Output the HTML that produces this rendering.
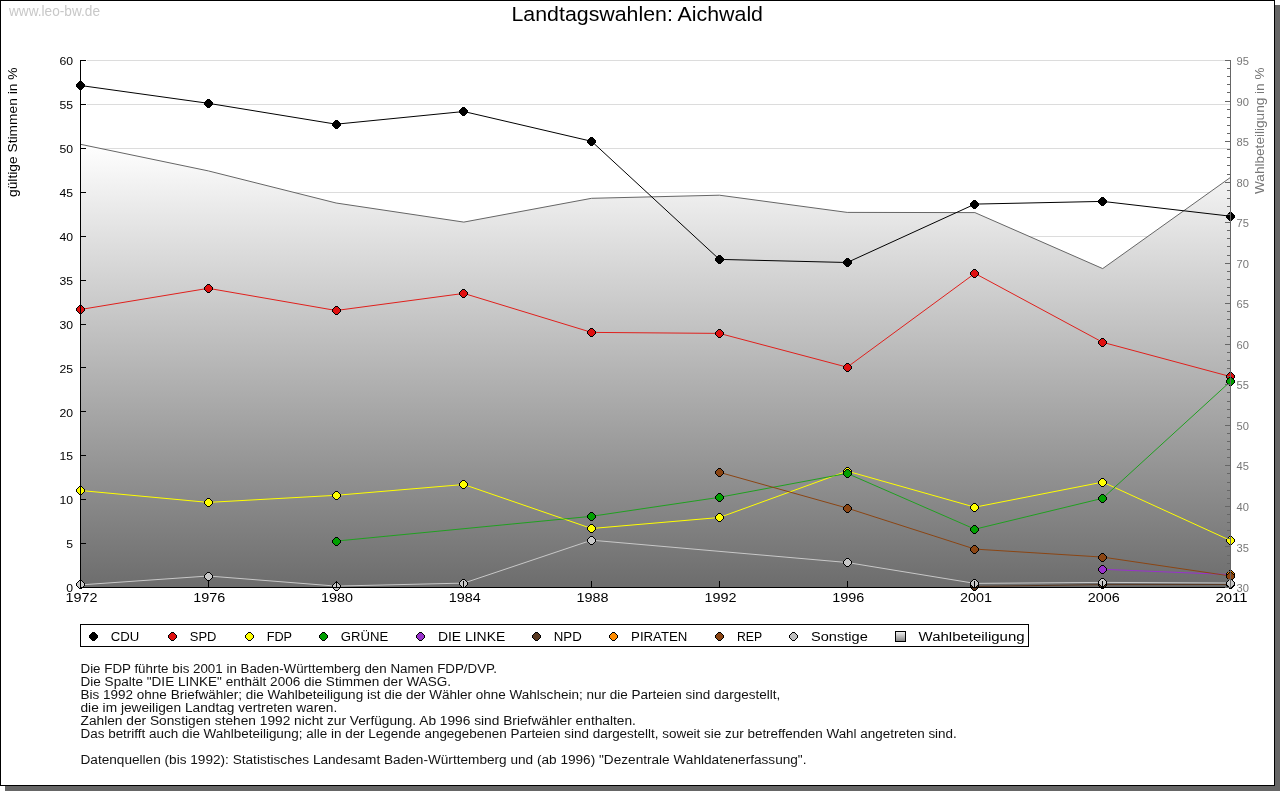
<!DOCTYPE html>
<html><head><meta charset="utf-8"><title>Landtagswahlen: Aichwald</title>
<style>
html,body{margin:0;padding:0;background:#fff;width:1280px;height:791px;overflow:hidden;}
svg{display:block;will-change:transform;}
text{font-family:"Liberation Sans",sans-serif;}
</style></head><body>
<svg width="1280" height="791" viewBox="0 0 1280 791">
<defs>
<linearGradient id="ag" gradientUnits="userSpaceOnUse" x1="0" y1="144" x2="0" y2="588">
<stop offset="0" stop-color="#ffffff"/><stop offset="1" stop-color="#6c6c6c"/>
</linearGradient>
<linearGradient id="lg" x1="0" y1="0" x2="0" y2="1">
<stop offset="0" stop-color="#f4f4f4"/><stop offset="1" stop-color="#808080"/>
</linearGradient>
</defs>
<rect x="5" y="5" width="1275" height="786" fill="#666"/>
<rect x="0.5" y="0.5" width="1274" height="785" fill="#fff" stroke="#000" stroke-width="1"/>

<text x="9" y="16" font-size="14" fill="#c8c8c8" textLength="91" lengthAdjust="spacingAndGlyphs">www.leo-bw.de</text>
<text x="511.5" y="21" font-size="20.5" fill="#000" textLength="251.5" lengthAdjust="spacingAndGlyphs">Landtagswahlen: Aichwald</text>
<text transform="translate(16.5,197) rotate(-90)" x="0" y="0" font-size="12" fill="#000" textLength="129.5" lengthAdjust="spacingAndGlyphs">gültige Stimmen in %</text>
<text transform="translate(1263.5,194) rotate(-90)" x="0" y="0" font-size="12" fill="#777" textLength="126.5" lengthAdjust="spacingAndGlyphs">Wahlbeteiligung in %</text>
<path d="M87 543.5H1230 M87 499.5H1230 M87 455.5H1230 M87 411.5H1230 M87 367.5H1230 M87 324.5H1230 M87 280.5H1230 M87 236.5H1230 M87 192.5H1230 M87 148.5H1230 M87 104.5H1230 M87 60.5H1230" stroke="#dcdcdc" stroke-width="1" fill="none"/>
<polygon points="80.5,144.3 208.3,170.9 336.1,203.0 463.8,222.1 591.6,198.3 719.4,195.2 847.2,212.4 974.9,212.6 1102.7,268.6 1230.5,177.4 1230.5,587.5 80.5,587.5" fill="url(#ag)"/>
<polyline points="80.5,144.3 208.3,170.9 336.1,203.0 463.8,222.1 591.6,198.3 719.4,195.2 847.2,212.4 974.9,212.6 1102.7,268.6 1230.5,177.4" fill="none" stroke="#666" stroke-width="1"/>
<polyline points="80.5,85.5 208.3,103.3 336.1,124.2 463.8,111.5 591.6,141.3 719.4,259.4 847.2,262.5 974.9,204.1 1102.7,201.4 1230.5,216.2" fill="none" stroke="#000" stroke-width="1"/>
<polyline points="80.5,309.5 208.3,288.3 336.1,310.5 463.8,293.4 591.6,332.4 719.4,333.4 847.2,367.2 974.9,273.4 1102.7,342.3 1230.5,376.6" fill="none" stroke="#e0201c" stroke-width="1"/>
<polyline points="80.5,490.5 208.3,502.4 336.1,495.3 463.8,484.5 591.6,528.5 719.4,517.5 847.2,471.1 974.9,507.2 1102.7,482.1 1230.5,540.5" fill="none" stroke="#ffff00" stroke-width="1"/>
<polyline points="336.1,541.1 591.6,516.3 719.4,497.3 847.2,473.4 974.9,529.2 1102.7,498.3 1230.5,381.4" fill="none" stroke="#20a020" stroke-width="1"/>
<polyline points="1102.7,569.3 1230.5,574.6" fill="none" stroke="#9932cc" stroke-width="1"/>
<polyline points="974.9,586.4 1102.7,584.6 1230.5,584.5" fill="none" stroke="#5a3a22" stroke-width="1"/>
<polyline points="719.4,472.3 847.2,508.1 974.9,549.1 1102.7,557.1 1230.5,576.0" fill="none" stroke="#8b4513" stroke-width="1"/>
<polyline points="80.5,584.9 208.3,576.0 336.1,586.1 463.8,583.1 591.6,540.2 847.2,562.5 974.9,583.4 1102.7,582.4 1230.5,583.0" fill="none" stroke="#c8c8c8" stroke-width="1"/>
<path d="M79.5 81.5h2l3 3v2l-3 3h-2l-3 -3v-2z" fill="#000" stroke="#000" stroke-width="1" shape-rendering="crispEdges"/>
<path d="M207.5 99.5h2l3 3v2l-3 3h-2l-3 -3v-2z" fill="#000" stroke="#000" stroke-width="1" shape-rendering="crispEdges"/>
<path d="M335.5 120.5h2l3 3v2l-3 3h-2l-3 -3v-2z" fill="#000" stroke="#000" stroke-width="1" shape-rendering="crispEdges"/>
<path d="M462.5 107.5h2l3 3v2l-3 3h-2l-3 -3v-2z" fill="#000" stroke="#000" stroke-width="1" shape-rendering="crispEdges"/>
<path d="M590.5 137.5h2l3 3v2l-3 3h-2l-3 -3v-2z" fill="#000" stroke="#000" stroke-width="1" shape-rendering="crispEdges"/>
<path d="M718.5 255.5h2l3 3v2l-3 3h-2l-3 -3v-2z" fill="#000" stroke="#000" stroke-width="1" shape-rendering="crispEdges"/>
<path d="M846.5 258.5h2l3 3v2l-3 3h-2l-3 -3v-2z" fill="#000" stroke="#000" stroke-width="1" shape-rendering="crispEdges"/>
<path d="M973.5 200.5h2l3 3v2l-3 3h-2l-3 -3v-2z" fill="#000" stroke="#000" stroke-width="1" shape-rendering="crispEdges"/>
<path d="M1101.5 197.5h2l3 3v2l-3 3h-2l-3 -3v-2z" fill="#000" stroke="#000" stroke-width="1" shape-rendering="crispEdges"/>
<path d="M1229.5 212.5h2l3 3v2l-3 3h-2l-3 -3v-2z" fill="#000" stroke="#000" stroke-width="1" shape-rendering="crispEdges"/>
<path d="M79.5 305.5h2l3 3v2l-3 3h-2l-3 -3v-2z" fill="#e01010" stroke="#000" stroke-width="1" shape-rendering="crispEdges"/>
<path d="M207.5 284.5h2l3 3v2l-3 3h-2l-3 -3v-2z" fill="#e01010" stroke="#000" stroke-width="1" shape-rendering="crispEdges"/>
<path d="M335.5 306.5h2l3 3v2l-3 3h-2l-3 -3v-2z" fill="#e01010" stroke="#000" stroke-width="1" shape-rendering="crispEdges"/>
<path d="M462.5 289.5h2l3 3v2l-3 3h-2l-3 -3v-2z" fill="#e01010" stroke="#000" stroke-width="1" shape-rendering="crispEdges"/>
<path d="M590.5 328.5h2l3 3v2l-3 3h-2l-3 -3v-2z" fill="#e01010" stroke="#000" stroke-width="1" shape-rendering="crispEdges"/>
<path d="M718.5 329.5h2l3 3v2l-3 3h-2l-3 -3v-2z" fill="#e01010" stroke="#000" stroke-width="1" shape-rendering="crispEdges"/>
<path d="M846.5 363.5h2l3 3v2l-3 3h-2l-3 -3v-2z" fill="#e01010" stroke="#000" stroke-width="1" shape-rendering="crispEdges"/>
<path d="M973.5 269.5h2l3 3v2l-3 3h-2l-3 -3v-2z" fill="#e01010" stroke="#000" stroke-width="1" shape-rendering="crispEdges"/>
<path d="M1101.5 338.5h2l3 3v2l-3 3h-2l-3 -3v-2z" fill="#e01010" stroke="#000" stroke-width="1" shape-rendering="crispEdges"/>
<path d="M1229.5 372.5h2l3 3v2l-3 3h-2l-3 -3v-2z" fill="#e01010" stroke="#000" stroke-width="1" shape-rendering="crispEdges"/>
<path d="M79.5 486.5h2l3 3v2l-3 3h-2l-3 -3v-2z" fill="#ffff00" stroke="#000" stroke-width="1" shape-rendering="crispEdges"/>
<path d="M207.5 498.5h2l3 3v2l-3 3h-2l-3 -3v-2z" fill="#ffff00" stroke="#000" stroke-width="1" shape-rendering="crispEdges"/>
<path d="M335.5 491.5h2l3 3v2l-3 3h-2l-3 -3v-2z" fill="#ffff00" stroke="#000" stroke-width="1" shape-rendering="crispEdges"/>
<path d="M462.5 480.5h2l3 3v2l-3 3h-2l-3 -3v-2z" fill="#ffff00" stroke="#000" stroke-width="1" shape-rendering="crispEdges"/>
<path d="M590.5 524.5h2l3 3v2l-3 3h-2l-3 -3v-2z" fill="#ffff00" stroke="#000" stroke-width="1" shape-rendering="crispEdges"/>
<path d="M718.5 513.5h2l3 3v2l-3 3h-2l-3 -3v-2z" fill="#ffff00" stroke="#000" stroke-width="1" shape-rendering="crispEdges"/>
<path d="M846.5 467.5h2l3 3v2l-3 3h-2l-3 -3v-2z" fill="#ffff00" stroke="#000" stroke-width="1" shape-rendering="crispEdges"/>
<path d="M973.5 503.5h2l3 3v2l-3 3h-2l-3 -3v-2z" fill="#ffff00" stroke="#000" stroke-width="1" shape-rendering="crispEdges"/>
<path d="M1101.5 478.5h2l3 3v2l-3 3h-2l-3 -3v-2z" fill="#ffff00" stroke="#000" stroke-width="1" shape-rendering="crispEdges"/>
<path d="M1229.5 536.5h2l3 3v2l-3 3h-2l-3 -3v-2z" fill="#ffff00" stroke="#000" stroke-width="1" shape-rendering="crispEdges"/>
<path d="M335.5 537.5h2l3 3v2l-3 3h-2l-3 -3v-2z" fill="#00a000" stroke="#000" stroke-width="1" shape-rendering="crispEdges"/>
<path d="M590.5 512.5h2l3 3v2l-3 3h-2l-3 -3v-2z" fill="#00a000" stroke="#000" stroke-width="1" shape-rendering="crispEdges"/>
<path d="M718.5 493.5h2l3 3v2l-3 3h-2l-3 -3v-2z" fill="#00a000" stroke="#000" stroke-width="1" shape-rendering="crispEdges"/>
<path d="M846.5 469.5h2l3 3v2l-3 3h-2l-3 -3v-2z" fill="#00a000" stroke="#000" stroke-width="1" shape-rendering="crispEdges"/>
<path d="M973.5 525.5h2l3 3v2l-3 3h-2l-3 -3v-2z" fill="#00a000" stroke="#000" stroke-width="1" shape-rendering="crispEdges"/>
<path d="M1101.5 494.5h2l3 3v2l-3 3h-2l-3 -3v-2z" fill="#00a000" stroke="#000" stroke-width="1" shape-rendering="crispEdges"/>
<path d="M1229.5 377.5h2l3 3v2l-3 3h-2l-3 -3v-2z" fill="#00a000" stroke="#000" stroke-width="1" shape-rendering="crispEdges"/>
<path d="M1101.5 565.5h2l3 3v2l-3 3h-2l-3 -3v-2z" fill="#9932cc" stroke="#000" stroke-width="1" shape-rendering="crispEdges"/>
<path d="M1229.5 570.5h2l3 3v2l-3 3h-2l-3 -3v-2z" fill="#9932cc" stroke="#000" stroke-width="1" shape-rendering="crispEdges"/>
<path d="M973.5 582.5h2l3 3v2l-3 3h-2l-3 -3v-2z" fill="#5a3a22" stroke="#000" stroke-width="1" shape-rendering="crispEdges"/>
<path d="M1101.5 580.5h2l3 3v2l-3 3h-2l-3 -3v-2z" fill="#5a3a22" stroke="#000" stroke-width="1" shape-rendering="crispEdges"/>
<path d="M1229.5 580.5h2l3 3v2l-3 3h-2l-3 -3v-2z" fill="#5a3a22" stroke="#000" stroke-width="1" shape-rendering="crispEdges"/>
<path d="M1229.5 570.5h2l3 3v2l-3 3h-2l-3 -3v-2z" fill="#ff8c00" stroke="#000" stroke-width="1" shape-rendering="crispEdges"/>
<path d="M718.5 468.5h2l3 3v2l-3 3h-2l-3 -3v-2z" fill="#8b4513" stroke="#000" stroke-width="1" shape-rendering="crispEdges"/>
<path d="M846.5 504.5h2l3 3v2l-3 3h-2l-3 -3v-2z" fill="#8b4513" stroke="#000" stroke-width="1" shape-rendering="crispEdges"/>
<path d="M973.5 545.5h2l3 3v2l-3 3h-2l-3 -3v-2z" fill="#8b4513" stroke="#000" stroke-width="1" shape-rendering="crispEdges"/>
<path d="M1101.5 553.5h2l3 3v2l-3 3h-2l-3 -3v-2z" fill="#8b4513" stroke="#000" stroke-width="1" shape-rendering="crispEdges"/>
<path d="M1229.5 572.5h2l3 3v2l-3 3h-2l-3 -3v-2z" fill="#8b4513" stroke="#000" stroke-width="1" shape-rendering="crispEdges"/>
<path d="M79.5 580.5h2l3 3v2l-3 3h-2l-3 -3v-2z" fill="#c8c8c8" stroke="#000" stroke-width="1" shape-rendering="crispEdges"/>
<path d="M207.5 572.5h2l3 3v2l-3 3h-2l-3 -3v-2z" fill="#c8c8c8" stroke="#000" stroke-width="1" shape-rendering="crispEdges"/>
<path d="M335.5 582.5h2l3 3v2l-3 3h-2l-3 -3v-2z" fill="#c8c8c8" stroke="#000" stroke-width="1" shape-rendering="crispEdges"/>
<path d="M462.5 579.5h2l3 3v2l-3 3h-2l-3 -3v-2z" fill="#c8c8c8" stroke="#000" stroke-width="1" shape-rendering="crispEdges"/>
<path d="M590.5 536.5h2l3 3v2l-3 3h-2l-3 -3v-2z" fill="#c8c8c8" stroke="#000" stroke-width="1" shape-rendering="crispEdges"/>
<path d="M846.5 558.5h2l3 3v2l-3 3h-2l-3 -3v-2z" fill="#c8c8c8" stroke="#000" stroke-width="1" shape-rendering="crispEdges"/>
<path d="M973.5 579.5h2l3 3v2l-3 3h-2l-3 -3v-2z" fill="#c8c8c8" stroke="#000" stroke-width="1" shape-rendering="crispEdges"/>
<path d="M1101.5 578.5h2l3 3v2l-3 3h-2l-3 -3v-2z" fill="#c8c8c8" stroke="#000" stroke-width="1" shape-rendering="crispEdges"/>
<path d="M1229.5 579.5h2l3 3v2l-3 3h-2l-3 -3v-2z" fill="#c8c8c8" stroke="#000" stroke-width="1" shape-rendering="crispEdges"/>
<path d="M80.5 60V587.5H1230 M80 587.5H86 M80 543.5H86 M80 499.5H86 M80 455.5H86 M80 411.5H86 M80 367.5H86 M80 324.5H86 M80 280.5H86 M80 236.5H86 M80 192.5H86 M80 148.5H86 M80 104.5H86 M80 60.5H86 M80.5 581V587 M208.5 581V587 M336.5 581V587 M463.5 581V587 M591.5 581V587 M719.5 581V587 M847.5 581V587 M974.5 581V587 M1102.5 581V587 M1230.5 581V587" stroke="#000" stroke-width="1" fill="none"/>
<path d="M1230.5 60V588 M1225 587.5H1230 M1227 579.5H1230 M1227 571.5H1230 M1227 563.5H1230 M1227 555.5H1230 M1225 546.5H1230 M1227 538.5H1230 M1227 530.5H1230 M1227 522.5H1230 M1227 514.5H1230 M1225 506.5H1230 M1227 498.5H1230 M1227 490.5H1230 M1227 482.5H1230 M1227 473.5H1230 M1225 465.5H1230 M1227 457.5H1230 M1227 449.5H1230 M1227 441.5H1230 M1227 433.5H1230 M1225 425.5H1230 M1227 417.5H1230 M1227 409.5H1230 M1227 401.5H1230 M1227 392.5H1230 M1225 384.5H1230 M1227 376.5H1230 M1227 368.5H1230 M1227 360.5H1230 M1227 352.5H1230 M1225 344.5H1230 M1227 336.5H1230 M1227 328.5H1230 M1227 319.5H1230 M1227 311.5H1230 M1225 303.5H1230 M1227 295.5H1230 M1227 287.5H1230 M1227 279.5H1230 M1227 271.5H1230 M1225 263.5H1230 M1227 255.5H1230 M1227 246.5H1230 M1227 238.5H1230 M1227 230.5H1230 M1225 222.5H1230 M1227 214.5H1230 M1227 206.5H1230 M1227 198.5H1230 M1227 190.5H1230 M1225 182.5H1230 M1227 174.5H1230 M1227 165.5H1230 M1227 157.5H1230 M1227 149.5H1230 M1225 141.5H1230 M1227 133.5H1230 M1227 125.5H1230 M1227 117.5H1230 M1227 109.5H1230 M1225 101.5H1230 M1227 92.5H1230 M1227 84.5H1230 M1227 76.5H1230 M1227 68.5H1230 M1225 60.5H1230" stroke="#666" stroke-width="1" fill="none"/>
<text x="73" y="592.2" font-size="11" fill="#000" text-anchor="end" textLength="6.8" lengthAdjust="spacingAndGlyphs">0</text>
<text x="73" y="548.3" font-size="11" fill="#000" text-anchor="end" textLength="6.8" lengthAdjust="spacingAndGlyphs">5</text>
<text x="73" y="504.4" font-size="11" fill="#000" text-anchor="end" textLength="13.6" lengthAdjust="spacingAndGlyphs">10</text>
<text x="73" y="460.4" font-size="11" fill="#000" text-anchor="end" textLength="13.6" lengthAdjust="spacingAndGlyphs">15</text>
<text x="73" y="416.5" font-size="11" fill="#000" text-anchor="end" textLength="13.6" lengthAdjust="spacingAndGlyphs">20</text>
<text x="73" y="372.6" font-size="11" fill="#000" text-anchor="end" textLength="13.6" lengthAdjust="spacingAndGlyphs">25</text>
<text x="73" y="328.7" font-size="11" fill="#000" text-anchor="end" textLength="13.6" lengthAdjust="spacingAndGlyphs">30</text>
<text x="73" y="284.8" font-size="11" fill="#000" text-anchor="end" textLength="13.6" lengthAdjust="spacingAndGlyphs">35</text>
<text x="73" y="240.9" font-size="11" fill="#000" text-anchor="end" textLength="13.6" lengthAdjust="spacingAndGlyphs">40</text>
<text x="73" y="196.9" font-size="11" fill="#000" text-anchor="end" textLength="13.6" lengthAdjust="spacingAndGlyphs">45</text>
<text x="73" y="153.0" font-size="11" fill="#000" text-anchor="end" textLength="13.6" lengthAdjust="spacingAndGlyphs">50</text>
<text x="73" y="109.1" font-size="11" fill="#000" text-anchor="end" textLength="13.6" lengthAdjust="spacingAndGlyphs">55</text>
<text x="73" y="65.2" font-size="11" fill="#000" text-anchor="end" textLength="13.6" lengthAdjust="spacingAndGlyphs">60</text>
<text x="1236.5" y="592.0" font-size="11" fill="#777" textLength="12.4" lengthAdjust="spacingAndGlyphs">30</text>
<text x="1236.5" y="551.5" font-size="11" fill="#777" textLength="12.4" lengthAdjust="spacingAndGlyphs">35</text>
<text x="1236.5" y="510.9" font-size="11" fill="#777" textLength="12.4" lengthAdjust="spacingAndGlyphs">40</text>
<text x="1236.5" y="470.4" font-size="11" fill="#777" textLength="12.4" lengthAdjust="spacingAndGlyphs">45</text>
<text x="1236.5" y="429.8" font-size="11" fill="#777" textLength="12.4" lengthAdjust="spacingAndGlyphs">50</text>
<text x="1236.5" y="389.3" font-size="11" fill="#777" textLength="12.4" lengthAdjust="spacingAndGlyphs">55</text>
<text x="1236.5" y="348.8" font-size="11" fill="#777" textLength="12.4" lengthAdjust="spacingAndGlyphs">60</text>
<text x="1236.5" y="308.2" font-size="11" fill="#777" textLength="12.4" lengthAdjust="spacingAndGlyphs">65</text>
<text x="1236.5" y="267.7" font-size="11" fill="#777" textLength="12.4" lengthAdjust="spacingAndGlyphs">70</text>
<text x="1236.5" y="227.2" font-size="11" fill="#777" textLength="12.4" lengthAdjust="spacingAndGlyphs">75</text>
<text x="1236.5" y="186.6" font-size="11" fill="#777" textLength="12.4" lengthAdjust="spacingAndGlyphs">80</text>
<text x="1236.5" y="146.1" font-size="11" fill="#777" textLength="12.4" lengthAdjust="spacingAndGlyphs">85</text>
<text x="1236.5" y="105.5" font-size="11" fill="#777" textLength="12.4" lengthAdjust="spacingAndGlyphs">90</text>
<text x="1236.5" y="65.0" font-size="11" fill="#777" textLength="12.4" lengthAdjust="spacingAndGlyphs">95</text>
<text x="81.5" y="602" font-size="12" fill="#000" text-anchor="middle" textLength="32" lengthAdjust="spacingAndGlyphs">1972</text>
<text x="209.3" y="602" font-size="12" fill="#000" text-anchor="middle" textLength="32" lengthAdjust="spacingAndGlyphs">1976</text>
<text x="337.1" y="602" font-size="12" fill="#000" text-anchor="middle" textLength="32" lengthAdjust="spacingAndGlyphs">1980</text>
<text x="464.8" y="602" font-size="12" fill="#000" text-anchor="middle" textLength="32" lengthAdjust="spacingAndGlyphs">1984</text>
<text x="592.6" y="602" font-size="12" fill="#000" text-anchor="middle" textLength="32" lengthAdjust="spacingAndGlyphs">1988</text>
<text x="720.4" y="602" font-size="12" fill="#000" text-anchor="middle" textLength="32" lengthAdjust="spacingAndGlyphs">1992</text>
<text x="848.2" y="602" font-size="12" fill="#000" text-anchor="middle" textLength="32" lengthAdjust="spacingAndGlyphs">1996</text>
<text x="975.9" y="602" font-size="12" fill="#000" text-anchor="middle" textLength="32" lengthAdjust="spacingAndGlyphs">2001</text>
<text x="1103.7" y="602" font-size="12" fill="#000" text-anchor="middle" textLength="32" lengthAdjust="spacingAndGlyphs">2006</text>
<text x="1231.5" y="602" font-size="12" fill="#000" text-anchor="middle" textLength="32" lengthAdjust="spacingAndGlyphs">2011</text>
<rect x="80.5" y="624.5" width="948" height="22" fill="#fff" stroke="#000" stroke-width="1"/>
<path d="M92.5 632.5h2l3 3v2l-3 3h-2l-3 -3v-2z" fill="#000" stroke="#000" stroke-width="1" shape-rendering="crispEdges"/>
<text x="110.7" y="640.6" font-size="12" fill="#000" textLength="28.5" lengthAdjust="spacingAndGlyphs">CDU</text>
<path d="M171.5 632.5h2l3 3v2l-3 3h-2l-3 -3v-2z" fill="#e01010" stroke="#000" stroke-width="1" shape-rendering="crispEdges"/>
<text x="189.8" y="640.6" font-size="12" fill="#000" textLength="26.7" lengthAdjust="spacingAndGlyphs">SPD</text>
<path d="M248.5 632.5h2l3 3v2l-3 3h-2l-3 -3v-2z" fill="#ffff00" stroke="#000" stroke-width="1" shape-rendering="crispEdges"/>
<text x="266.7" y="640.6" font-size="12" fill="#000" textLength="25.4" lengthAdjust="spacingAndGlyphs">FDP</text>
<path d="M322.5 632.5h2l3 3v2l-3 3h-2l-3 -3v-2z" fill="#00a000" stroke="#000" stroke-width="1" shape-rendering="crispEdges"/>
<text x="340.8" y="640.6" font-size="12" fill="#000" textLength="47.5" lengthAdjust="spacingAndGlyphs">GRÜNE</text>
<path d="M419.5 632.5h2l3 3v2l-3 3h-2l-3 -3v-2z" fill="#9932cc" stroke="#000" stroke-width="1" shape-rendering="crispEdges"/>
<text x="437.9" y="640.6" font-size="12" fill="#000" textLength="67.4" lengthAdjust="spacingAndGlyphs">DIE LINKE</text>
<path d="M535.5 632.5h2l3 3v2l-3 3h-2l-3 -3v-2z" fill="#5a3a22" stroke="#000" stroke-width="1" shape-rendering="crispEdges"/>
<text x="553.8" y="640.6" font-size="12" fill="#000" textLength="28" lengthAdjust="spacingAndGlyphs">NPD</text>
<path d="M612.5 632.5h2l3 3v2l-3 3h-2l-3 -3v-2z" fill="#ff8c00" stroke="#000" stroke-width="1" shape-rendering="crispEdges"/>
<text x="631.1" y="640.6" font-size="12" fill="#000" textLength="56.3" lengthAdjust="spacingAndGlyphs">PIRATEN</text>
<path d="M718.5 632.5h2l3 3v2l-3 3h-2l-3 -3v-2z" fill="#8b4513" stroke="#000" stroke-width="1" shape-rendering="crispEdges"/>
<text x="737.0" y="640.6" font-size="12" fill="#000" textLength="25.1" lengthAdjust="spacingAndGlyphs">REP</text>
<path d="M792.5 632.5h2l3 3v2l-3 3h-2l-3 -3v-2z" fill="#c0c0c0" stroke="#000" stroke-width="1" shape-rendering="crispEdges"/>
<text x="811.0" y="640.6" font-size="12" fill="#000" textLength="56.8" lengthAdjust="spacingAndGlyphs">Sonstige</text>
<rect x="895.5" y="631.5" width="10" height="10" fill="url(#lg)" stroke="#000" stroke-width="1"/>
<text x="918.6" y="640.6" font-size="12" fill="#000" textLength="106" lengthAdjust="spacingAndGlyphs">Wahlbeteiligung</text>
<text x="80.5" y="672.6" font-size="12" fill="#111" textLength="416.5" lengthAdjust="spacingAndGlyphs">Die FDP führte bis 2001 in Baden-Württemberg den Namen FDP/DVP.</text>
<text x="80.5" y="685.6" font-size="12" fill="#111" textLength="370.6" lengthAdjust="spacingAndGlyphs">Die Spalte &quot;DIE LINKE&quot; enthält 2006 die Stimmen der WASG.</text>
<text x="80.5" y="698.6" font-size="12" fill="#111" textLength="699.7" lengthAdjust="spacingAndGlyphs">Bis 1992 ohne Briefwähler; die Wahlbeteiligung ist die der Wähler ohne Wahlschein; nur die Parteien sind dargestellt,</text>
<text x="80.5" y="711.6" font-size="12" fill="#111" textLength="256.8" lengthAdjust="spacingAndGlyphs">die im jeweiligen Landtag vertreten waren.</text>
<text x="80.5" y="724.6" font-size="12" fill="#111" textLength="555.4" lengthAdjust="spacingAndGlyphs">Zahlen der Sonstigen stehen 1992 nicht zur Verfügung. Ab 1996 sind Briefwähler enthalten.</text>
<text x="80.5" y="737.6" font-size="12" fill="#111" textLength="876.3" lengthAdjust="spacingAndGlyphs">Das betrifft auch die Wahlbeteiligung; alle in der Legende angegebenen Parteien sind dargestellt, soweit sie zur betreffenden Wahl angetreten sind.</text>
<text x="80.5" y="763.6" font-size="12" fill="#111" textLength="726.0" lengthAdjust="spacingAndGlyphs">Datenquellen (bis 1992): Statistisches Landesamt Baden-Württemberg und (ab 1996) &quot;Dezentrale Wahldatenerfassung&quot;.</text>
</svg></body></html>
